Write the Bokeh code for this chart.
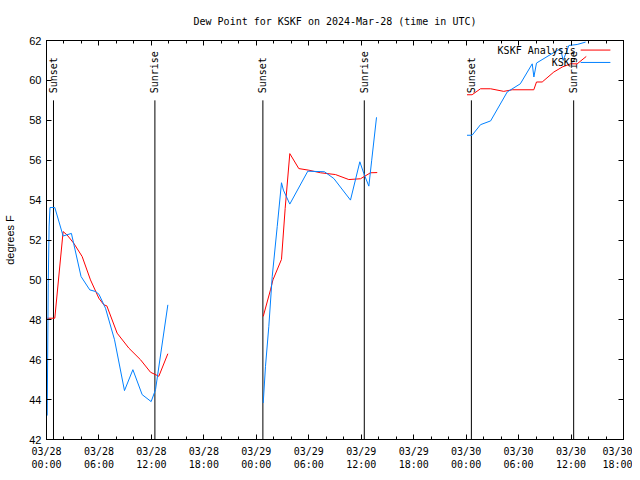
import numpy as np
from bokeh.plotting import figure
from bokeh.models import FixedTicker, LinearAxis, Range1d, CustomJSTickFormatter
from bokeh.core.properties import value
from bokeh.embed import file_html
from bokeh.resources import INLINE

# ---- data (hours since 2024-03-28 00:00 UTC, degrees F) ----
obs_t1 = [0.08, 0.2, 0.3, 0.4, 0.95, 1.9, 2.85, 3.95, 4.95, 5.6, 6.0, 6.75, 7.78, 8.92, 9.88, 10.94, 11.97, 12.47, 13.88]
obs_v1 = [43.2, 49.8, 52.7, 53.63, 53.63, 52.2, 52.33, 50.17, 49.5, 49.42, 49.28, 48.58, 47.0, 44.45, 45.5, 44.25, 43.9, 44.5, 48.75]
obs_t2 = [24.79, 25.05, 25.43, 25.82, 26.39, 26.88, 27.1, 27.83, 29.89, 31.8, 32.87, 34.77, 35.84, 36.3, 36.87, 37.2, 37.75]
obs_v2 = [43.83, 45.67, 47.67, 50.17, 52.67, 54.87, 54.5, 53.8, 55.45, 55.42, 55.08, 54.0, 55.92, 55.33, 54.7, 56.0, 58.15]
obs_t3 = [48.1, 48.68, 49.64, 50.8, 52.7, 54.2, 55.56, 55.75, 56.05, 58.42, 58.8, 59.1, 59.75, 60.7, 61.66]
obs_v3 = [57.25, 57.25, 57.78, 57.97, 59.42, 59.83, 60.83, 60.17, 60.87, 61.5, 61.58, 61.0, 61.75, 61.8, 61.92]

ana_t1 = [0.08, 0.95, 1.9, 2.36, 3.13, 4.08, 5.03, 5.99, 6.56, 6.9, 8.08, 9.42, 10.75, 11.9, 12.85, 13.88]
ana_v1 = [48.08, 48.08, 52.42, 52.25, 51.83, 51.17, 50.0, 49.08, 48.75, 48.7, 47.33, 46.58, 46.0, 45.37, 45.17, 46.3]
ana_t2 = [24.79, 25.62, 25.9, 26.88, 27.3, 27.83, 28.86, 30.0, 31.34, 33.06, 34.58, 35.92, 37.06, 37.83]
ana_v2 = [48.17, 49.5, 50.0, 51.03, 53.58, 56.33, 55.58, 55.5, 55.37, 55.28, 55.03, 55.07, 55.37, 55.38]
ana_t3 = [48.1, 48.68, 49.64, 50.8, 52.3, 53.27, 55.74, 56.05, 56.7, 58.03, 58.99, 59.94, 60.7, 61.74]
ana_v3 = [59.28, 59.28, 59.58, 59.58, 59.45, 59.53, 59.53, 59.92, 59.92, 60.42, 60.67, 60.83, 60.83, 61.2]

sun_times = [0.8, 12.4, 24.75, 36.35, 48.6, 60.3]
sun_labels = ["Sunset", "Sunrise", "Sunset", "Sunrise", "Sunset", "Sunrise"]

x_ticks = list(range(0, 67, 6))
x_tick_labels = ["03/28\n00:00", "03/28\n06:00", "03/28\n12:00", "03/28\n18:00",
                 "03/29\n00:00", "03/29\n06:00", "03/29\n12:00", "03/29\n18:00",
                 "03/30\n00:00", "03/30\n06:00", "03/30\n12:00", "03/30\n18:00"]
y_ticks = list(range(42, 63, 2))

series_names = ["KSKF Analysis", "KSKF"]
series_colors = ["#ff0000", "#0080ff"]

def join(*segs):
    out = []
    for i, s in enumerate(segs):
        if i:
            out.append(np.nan)
        out.extend(s)
    return np.array(out, dtype=float)

MONO = "DejaVu Sans Mono"
SANS = "Liberation Sans"

p = figure(width=632, height=472, output_backend="svg", toolbar_location=None,
           x_range=Range1d(0, 66), y_range=Range1d(42, 62),
           min_border_left=46, min_border_right=9, min_border_top=40, min_border_bottom=32,
           title="Dew Point for KSKF on 2024-Mar-28 (time in UTC)")
p.title.align = "center"
p.title.text_font = MONO
p.title.text_font_size = "10px"
p.title.text_font_style = "normal"
p.title.text_color = "black"
p.title.standoff = 27
p.xgrid.visible = False
p.ygrid.visible = False
p.outline_line_color = "black"
p.outline_line_alpha = 1
p.background_fill_color = "white"
p.border_fill_color = "white"

xt = FixedTicker(ticks=x_ticks, minor_ticks=[t for t in range(0, 67, 2)])
yt = FixedTicker(ticks=y_ticks, minor_ticks=[])

def style_axis(ax, labels=True):
    ax.major_tick_in = 5
    ax.major_tick_out = 0
    ax.minor_tick_in = 3
    ax.minor_tick_out = 0
    ax.axis_line_color = "black"
    ax.major_tick_line_color = "black"
    ax.minor_tick_line_color = "black"
    ax.major_label_text_color = "black"
    ax.axis_label_text_color = "black"
    if not labels:
        ax.formatter = CustomJSTickFormatter(code="return '';")
        ax.major_label_standoff = 0

xa = p.xaxis[0]
xa.ticker = xt
xa.major_label_overrides = {t: l for t, l in zip(x_ticks, x_tick_labels)}
xa.major_label_text_font = MONO
xa.major_label_text_font_size = "10px"
xa.major_label_standoff = 6
style_axis(xa)

ya = p.yaxis[0]
ya.ticker = yt
ya.major_label_text_font = SANS
ya.major_label_text_font_size = "11px"
ya.major_label_standoff = 5
ya.axis_label = "degrees F"
ya.axis_label_text_font = SANS
ya.axis_label_text_font_size = "11px"
ya.axis_label_text_font_style = "normal"
ya.axis_label_standoff = 10
style_axis(ya)

top = LinearAxis(ticker=xt)
style_axis(top, labels=False)
p.add_layout(top, "above")
right = LinearAxis(ticker=yt)
style_axis(right, labels=False)
p.add_layout(right, "right")

# sun lines
p.segment(x0=sun_times, y0=[42] * len(sun_times), x1=sun_times, y1=[59] * len(sun_times),
          line_color="black", line_width=1)
p.text(x=sun_times, y=[59] * len(sun_times), text=sun_labels, angle=np.pi / 2,
       text_align="left", text_baseline="middle", y_offset=-7,
       text_font=value(MONO), text_font_size="10px", text_color="black")

# series
p.line(join(ana_t1, ana_t2, ana_t3), join(ana_v1, ana_v2, ana_v3), line_color=series_colors[0], line_width=1)
p.line(join(obs_t1, obs_t2, obs_t3), join(obs_v1, obs_v2, obs_v3), line_color=series_colors[1], line_width=1)

# key (gnuplot style: text then sample at right)
key_text_x = 60.55
key_line_x0, key_line_x1 = 61.1, 64.5
key_y = [61.52, 60.9]
p.text(x=[key_text_x] * 2, y=key_y, text=series_names, text_align="right", text_baseline="middle",
       text_font=value(MONO), text_font_size="10px", text_color="black")
p.segment(x0=[key_line_x0] * 2, y0=key_y, x1=[key_line_x1] * 2, y1=key_y,
          line_color=series_colors, line_width=1)

open("out.html", "w").write(file_html(p, INLINE))
